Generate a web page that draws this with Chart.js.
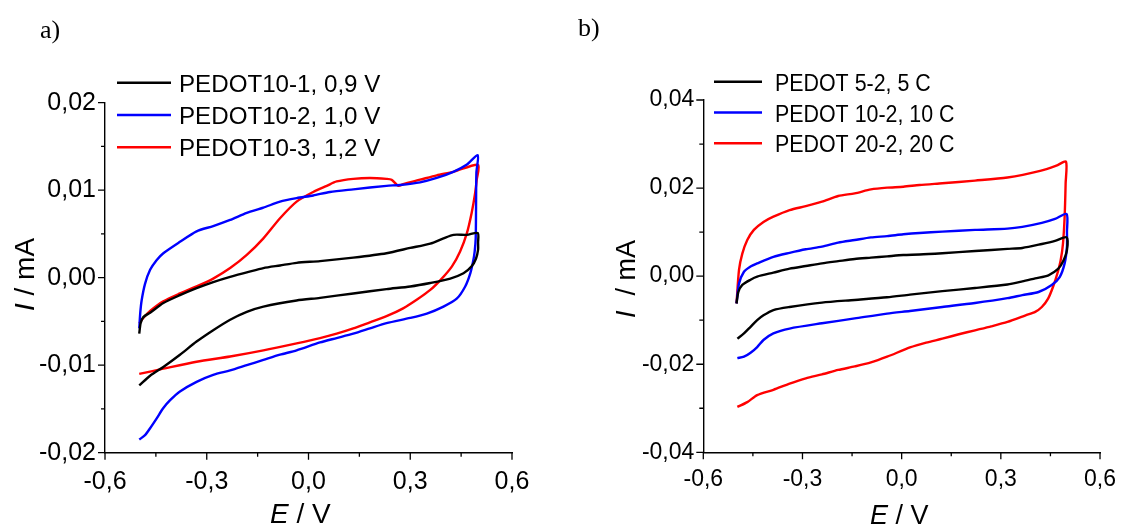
<!DOCTYPE html>
<html>
<head>
<meta charset="utf-8">
<script src="https://cdn.jsdelivr.net/npm/chart.js@4.4.1/dist/chart.umd.min.js"></script>
<style>
  html, body { margin: 0; padding: 0; background: #fff; }
  #wrap { position: relative; width: 1130px; height: 526px; overflow: hidden; }
  canvas { position: absolute; top: 0; }
</style>
</head>
<body>
<div id="wrap">
  <canvas id="panelA" width="565" height="526" style="left:0"></canvas>
  <canvas id="panelB" width="565" height="526" style="left:565px"></canvas>
</div>
<script>
// axis ticks
const eTicks = [-0.6, -0.3, 0, 0.3, 0.6];
const iTicksA = [-0.02, -0.01, 0, 0.01, 0.02];
const iTicksB = [-0.04, -0.02, 0, 0.02, 0.04];

const colors = ['#000000', '#0000ff', '#ff0000'];
const labelsA = ['PEDOT10-1, 0,9 V', 'PEDOT10-2, 1,0 V', 'PEDOT10-3, 1,2 V'];
const labelsB = ['PEDOT 5-2, 5 C', 'PEDOT 10-2, 10 C', 'PEDOT 20-2, 20 C'];

// a) CV loops, E / V and I / mA (anodic sweep then cathodic sweep)
const eA1 = [-0.499,-0.495,-0.487,-0.467,-0.428,-0.379,-0.330,-0.281,-0.231,-0.182,-0.133,-0.084,-0.035,0.034,0.132,0.230,0.300,0.359,0.398,0.428,0.467,0.499,
             0.500,0.500,0.494,0.481,0.457,0.418,0.359,0.300,0.230,0.132,0.034,-0.035,-0.133,-0.182,-0.231,-0.281,-0.330,-0.379,-0.428,-0.467,-0.499];
const iA1 = [-0.0064,-0.0052,-0.0045,-0.0040,-0.0029,-0.0020,-0.0012,-0.0005,0.0001,0.0006,0.0011,0.0014,0.0017,0.0019,0.0023,0.0028,0.0034,0.0039,0.0045,0.0049,0.0049,0.0051,
             0.0040,0.0032,0.0022,0.0013,0.0005,-0.0001,-0.0006,-0.0010,-0.0013,-0.0018,-0.0023,-0.0026,-0.0033,-0.0039,-0.0048,-0.0060,-0.0073,-0.0088,-0.0102,-0.0112,-0.0123];

const eA2 = [-0.499,-0.496,-0.492,-0.482,-0.467,-0.448,-0.428,-0.379,-0.330,-0.281,-0.231,-0.182,-0.133,-0.084,-0.035,0.014,0.063,0.132,0.230,0.270,0.329,0.378,0.427,0.466,0.499,
             0.495,0.494,0.493,0.490,0.486,0.477,0.462,0.437,0.398,0.349,0.300,0.230,0.181,0.132,0.083,0.034,-0.035,-0.084,-0.133,-0.182,-0.231,-0.281,-0.330,-0.379,-0.408,-0.428,-0.448,-0.467,-0.482,-0.499];
const iA2 = [-0.0058,-0.0040,-0.0026,-0.0007,0.0009,0.0020,0.0028,0.0041,0.0053,0.0059,0.0066,0.0074,0.0080,0.0087,0.0091,0.0094,0.0098,0.0101,0.0105,0.0106,0.0109,0.0114,0.0121,0.0129,0.0140,
             0.0120,0.0080,0.0045,0.0030,0.0020,0.0005,-0.0010,-0.0024,-0.0033,-0.0041,-0.0046,-0.0052,-0.0058,-0.0064,-0.0069,-0.0074,-0.0083,-0.0088,-0.0094,-0.0100,-0.0106,-0.0111,-0.0119,-0.0130,-0.0140,-0.0149,-0.0161,-0.0172,-0.0180,-0.0185];

const eA3 = [-0.499,-0.487,-0.467,-0.428,-0.379,-0.330,-0.281,-0.231,-0.182,-0.133,-0.084,-0.035,0.014,0.054,0.083,0.132,0.181,0.230,0.245,0.265,0.279,0.329,0.378,0.427,0.500,
             0.496,0.491,0.481,0.467,0.447,0.423,0.393,0.359,0.320,0.279,0.230,0.181,0.132,0.083,0.034,-0.035,-0.133,-0.231,-0.330,-0.428,-0.499];
const iA3 = [-0.0052,-0.0046,-0.0038,-0.0027,-0.0018,-0.0010,-0.0001,0.0011,0.0026,0.0045,0.0068,0.0087,0.0098,0.0105,0.0110,0.0113,0.0114,0.0113,0.0112,0.0105,0.0107,0.0112,0.0117,0.0121,0.0129,
             0.0112,0.0096,0.0074,0.0051,0.0030,0.0013,-0.0001,-0.0014,-0.0025,-0.0035,-0.0044,-0.0051,-0.0058,-0.0064,-0.0069,-0.0075,-0.0083,-0.0090,-0.0096,-0.0104,-0.0110];

// b) CV loops for films of different deposition charge
const eB1 = [-0.4995,-0.494,-0.482,-0.457,-0.437,-0.388,-0.339,-0.290,-0.241,-0.192,-0.142,-0.093,-0.044,0.005,0.054,0.123,0.222,0.320,0.365,0.424,0.464,0.499,
             0.500,0.488,0.474,0.444,0.404,0.365,0.320,0.222,0.123,0.025,-0.044,-0.142,-0.241,-0.339,-0.388,-0.418,-0.437,-0.457,-0.477,-0.497];
const iB1 = [-0.0062,-0.0036,-0.0020,-0.0008,-0.0001,0.0008,0.0017,0.0023,0.0029,0.0034,0.0039,0.0042,0.0045,0.0048,0.0049,0.0052,0.0057,0.0062,0.0064,0.0073,0.0080,0.0088,
             0.0059,0.0033,0.0017,0.0002,-0.0005,-0.0012,-0.0019,-0.0027,-0.0034,-0.0042,-0.0048,-0.0054,-0.0060,-0.0070,-0.0077,-0.0089,-0.0100,-0.0115,-0.0130,-0.0142];

const eB2 = [-0.4995,-0.492,-0.477,-0.457,-0.437,-0.388,-0.339,-0.290,-0.241,-0.192,-0.142,-0.093,-0.044,0.005,0.054,0.123,0.222,0.320,0.365,0.424,0.464,0.499,
             0.500,0.500,0.493,0.478,0.454,0.414,0.365,0.320,0.222,0.123,0.025,-0.044,-0.142,-0.241,-0.339,-0.388,-0.418,-0.437,-0.457,-0.477,-0.497];
const iB2 = [-0.0062,-0.0017,0.0010,0.0022,0.0029,0.0044,0.0053,0.0061,0.0067,0.0076,0.0082,0.0088,0.0091,0.0095,0.0098,0.0101,0.0105,0.0108,0.0112,0.0121,0.0130,0.0141,
             0.0100,0.0067,0.0029,-0.0002,-0.0020,-0.0036,-0.0043,-0.0050,-0.0061,-0.0070,-0.0079,-0.0085,-0.0096,-0.0107,-0.0119,-0.0130,-0.0145,-0.0161,-0.0174,-0.0183,-0.0186];

const eB3 = [-0.4995,-0.492,-0.482,-0.467,-0.447,-0.418,-0.388,-0.339,-0.290,-0.241,-0.192,-0.142,-0.093,-0.044,0.005,0.054,0.123,0.222,0.320,0.419,0.468,0.497,
             0.496,0.493,0.488,0.481,0.471,0.458,0.443,0.424,0.404,0.375,0.320,0.271,0.222,0.173,0.123,0.074,0.025,-0.044,-0.093,-0.142,-0.192,-0.241,-0.290,-0.339,-0.388,-0.437,-0.467,-0.497];
const iB3 = [-0.0062,0.0014,0.0051,0.0082,0.0105,0.0123,0.0135,0.0150,0.0159,0.0169,0.0182,0.0188,0.0197,0.0201,0.0203,0.0207,0.0211,0.0217,0.0224,0.0239,0.0251,0.0260,
             0.0211,0.0135,0.0074,0.0036,0.0006,-0.0024,-0.0051,-0.0070,-0.0081,-0.0089,-0.0104,-0.0114,-0.0123,-0.0132,-0.0142,-0.0151,-0.0162,-0.0183,-0.0196,-0.0205,-0.0213,-0.0223,-0.0232,-0.0244,-0.0258,-0.0270,-0.0286,-0.0297];

const SANS = '"Liberation Sans", Arial, sans-serif';

function zip(e, i) { return e.map((v, k) => ({ x: v, y: i[k] })); }
function fmt(d) { return v => (Math.abs(v) < 1e-9 ? 0 : v).toFixed(d).replace('.', ','); }

// draws text made of [italic?, string] parts, left to right
function parts(ctx, size, list) {
  let x = 0;
  list.forEach(p => {
    ctx.font = (p[0] ? 'italic ' : '') + size + 'px ' + SANS;
    ctx.fillText(p[1], x, 0);
    x += ctx.measureText(p[1]).width;
  });
}

// ticks (major + minor), legend, axis titles, panel letter
const decor = {
  id: 'decor',
  afterDraw(chart, args, o) {
    const ctx = chart.ctx, xs = chart.scales.x, ys = chart.scales.y;
    ctx.save();
    ctx.strokeStyle = '#000';
    ctx.lineWidth = 1.3;
    ctx.beginPath();
    eTicks.forEach((v, k) => {
      const p = xs.getPixelForValue(v);
      ctx.moveTo(p, xs.top); ctx.lineTo(p, xs.top + 7);
      if (k < eTicks.length - 1) {
        const m = xs.getPixelForValue((v + eTicks[k + 1]) / 2);
        ctx.moveTo(m, xs.top); ctx.lineTo(m, xs.top + 4);
      }
    });
    o.yTicks.forEach((v, k) => {
      const p = ys.getPixelForValue(v);
      ctx.moveTo(ys.right, p); ctx.lineTo(ys.right - 7, p);
      if (k < o.yTicks.length - 1) {
        const m = ys.getPixelForValue((v + o.yTicks[k + 1]) / 2);
        ctx.moveTo(ys.right, m); ctx.lineTo(ys.right - 4, m);
      }
    });
    ctx.stroke();

    // legend
    const L = o.legend;
    chart.data.datasets.forEach((ds, k) => {
      const ly = L.y + k * L.gap;
      ctx.strokeStyle = ds.borderColor;
      ctx.lineWidth = 2.5;
      ctx.beginPath(); ctx.moveTo(L.x0, ly); ctx.lineTo(L.x1, ly); ctx.stroke();
      ctx.save();
      ctx.fillStyle = '#000';
      ctx.font = L.size + 'px ' + SANS;
      ctx.translate(L.tx, ly + 9);
      ctx.scale(L.sx, 1);
      ctx.fillText(ds.label, 0, 0);
      ctx.restore();
    });

    ctx.fillStyle = '#000';
    ctx.textBaseline = 'alphabetic';
    // panel letter
    ctx.font = '26px "Liberation Serif", "Times New Roman", serif';
    ctx.fillText(o.letter[0], o.letter[1], o.letter[2]);

    // x title
    ctx.save();
    ctx.translate(o.xTitle[0], o.xTitle[1]);
    parts(ctx, o.titleSize, [[true, 'E'], [false, ' / V']]);
    ctx.restore();

    // y title, rotated
    ctx.save();
    ctx.translate(o.yTitle[0], o.yTitle[1]);
    ctx.rotate(-Math.PI / 2);
    parts(ctx, o.titleSize, [[true, 'I'], [false, o.yTitle[2]]]);
    ctx.restore();

    ctx.restore();
  }
};

function panel(id, series, labels, yMin, yMax, yTicks, L) {
  return new Chart(document.getElementById(id), {
    type: 'scatter',
    data: {
      datasets: series.map((s, k) => ({
        label: labels[k],
        data: zip(s[0], s[1]),
        showLine: true,
        borderColor: colors[k],
        borderWidth: 2.4,
        pointRadius: 0,
        tension: 0.25,
        fill: false
      }))
    },
    options: {
      responsive: false,
      animation: false,
      devicePixelRatio: 1,
      layout: { padding: { left: 0, right: L.padRight, top: L.padTop, bottom: 0 } },
      plugins: {
        legend: { display: false },
        tooltip: { enabled: false },
        decor: L.decor
      },
      scales: {
        x: {
          type: 'linear', min: -0.6, max: 0.6,
          afterBuildTicks: s => { s.ticks = eTicks.map(v => ({ value: v })); },
          afterFit: s => { s.height = L.xHeight; },
          grid: { display: false, drawTicks: false },
          border: { display: true, color: '#000', width: 1.4 },
          ticks: { color: '#000', padding: 14, maxRotation: 0, autoSkip: false,
                   font: { family: SANS, size: L.tickSize }, callback: fmt(1) }
        },
        y: {
          type: 'linear', min: yMin, max: yMax,
          afterBuildTicks: s => { s.ticks = yTicks.map(v => ({ value: v })); },
          afterFit: s => { s.width = L.yWidth; },
          grid: { display: false, drawTicks: false },
          border: { display: true, color: '#000', width: 1.4 },
          ticks: { color: '#000', padding: 9, autoSkip: false,
                   font: { family: SANS, size: L.tickSize }, callback: fmt(2) }
        }
      }
    },
    plugins: [decor]
  });
}

panel('panelA', [[eA1, iA1], [eA2, iA2], [eA3, iA3]], labelsA, -0.02, 0.02, iTicksA, {
  padRight: 53, padTop: 102.7, xHeight: 73.3, yWidth: 105, tickSize: 25,
  decor: {
    yTicks: iTicksA,
    legend: { x0: 117, x1: 171, tx: 179, y: 82.7, gap: 32.3, size: 23, sx: 1.05 },
    letter: ['a)', 40, 38],
    titleSize: 28,
    xTitle: [270, 523],
    yTitle: [34, 311, ' / mA']
  }
});

panel('panelB', [[eB1, iB1], [eB2, iB2], [eB3, iB3]], labelsB, -0.04, 0.04, iTicksB, {
  padRight: 21, padTop: 100, xHeight: 73.7, yWidth: 138.3, tickSize: 23,
  decor: {
    yTicks: iTicksB,
    legend: { x0: 149, x1: 197, tx: 210, y: 81.7, gap: 30.8, size: 23, sx: 0.93 },
    letter: ['b)', 13, 36],
    titleSize: 27,
    xTitle: [305, 524],
    yTitle: [70, 318, '  / mA']
  }
});
</script>
</body>
</html>
